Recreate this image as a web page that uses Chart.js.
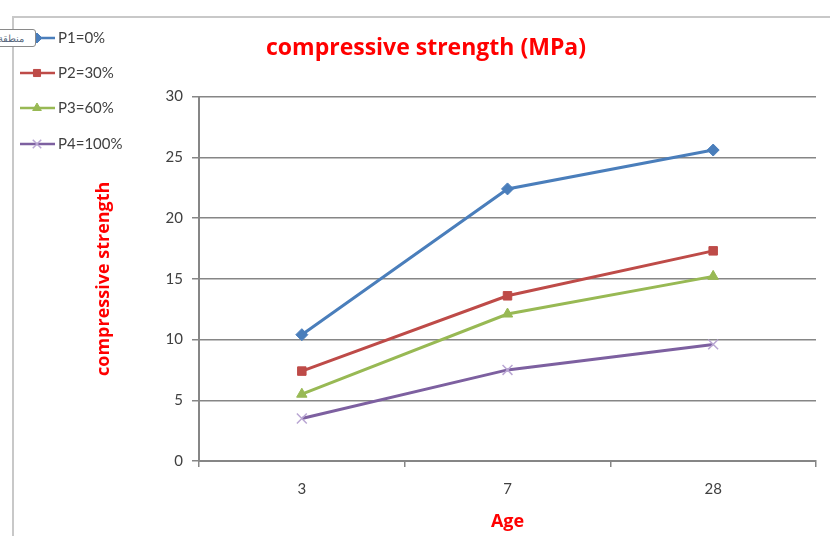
<!DOCTYPE html>
<html>
<head>
<meta charset="utf-8">
<script src="https://cdn.jsdelivr.net/npm/chart.js"></script>
<style>
  html, body { margin: 0; padding: 0; background: #fff; }
  #wrap { position: relative; width: 830px; height: 536px; overflow: hidden; }
  #frame { position: absolute; left: 12px; top: 16px; right: -2px; bottom: -2px;
           border-top: 2px solid #c8c8c8; border-left: 2px solid #c8c8c8; }
  #tip { position: absolute; left: -3px; top: 29px; width: 37px; height: 16px;
         border: 1px solid #8a8a8a; border-radius: 3px; background: #fff;
         font: 10px "Noto Sans", sans-serif; color: #5a6a80; text-align: left;
         line-height: 16px; overflow: hidden; white-space: nowrap; direction: rtl; }
  canvas { position: absolute; left: 0; top: 0; }
</style>
</head>
<body>
<div id="wrap">
  <div id="frame"></div>
  <canvas id="chart" width="830" height="536"></canvas>
  <div id="tip">منطقة</div>
</div>
<script>
// values
const ages = ['3', '7', '28'];
const seriesNames = ['P1=0%', 'P2=30%', 'P3=60%', 'P4=100%'];
const p1 = [10.4, 22.4, 25.6];
const p2 = [7.4, 13.6, 17.3];
const p3 = [5.5, 12.1, 15.2];
const p4 = [3.5, 7.5, 9.6];

const colors = ['#4a7ebb', '#be4b48', '#98b954', '#7d60a0'];
const markers = ['rectRot', 'rect', 'triangle', 'crossRot'];
const markerSize = [6, 6, 6, 7];
const tickFont = 'Lato, "Noto Sans", sans-serif';
const titleFont = '"Open Sans", "Noto Sans", sans-serif';

function makeSet(i, data) {
    return {
        label: seriesNames[i],
        data,
        borderColor: colors[i],
        backgroundColor: colors[i],
        borderWidth: 3,
        pointStyle: markers[i],
        pointRadius: markerSize[i],
        pointBorderWidth: markers[i] === 'crossRot' ? 1.5 : 1,
        pointBackgroundColor: colors[i],
        pointBorderColor: markers[i] === 'crossRot' ? '#b9a6d3' : colors[i],
        tension: 0
    };
}

// Excel style legend, stacked top-left
const sideLegend = {
    id: 'sideLegend',
    afterDraw(chart) {
        const c = chart.ctx;
        const rows = [38, 73, 108, 144];
        chart.data.datasets.forEach((ds, i) => {
            const y = rows[i];
            c.save();
            c.strokeStyle = ds.borderColor;
            c.lineWidth = 2.5;
            c.beginPath();
            c.moveTo(20, y);
            c.lineTo(55, y);
            c.stroke();
            if (Chart.helpers && Chart.helpers.drawPoint) {
                c.fillStyle = ds.pointBackgroundColor;
                c.strokeStyle = ds.pointBorderColor;
                c.lineWidth = ds.pointBorderWidth;
                Chart.helpers.drawPoint(c, {
                    pointStyle: ds.pointStyle,
                    radius: ds.pointRadius - 1,
                    borderWidth: ds.pointBorderWidth
                }, 37, y);
            }
            c.fillStyle = '#404040';
            c.font = '15px ' + tickFont;
            c.textBaseline = 'middle';
            c.textAlign = 'left';
            c.fillText(ds.label, 58, y);
            c.restore();
        });
    }
};

new Chart(document.getElementById('chart'), {
    type: 'line',
    data: {
        labels: ages,
        datasets: [makeSet(0, p1), makeSet(1, p2), makeSet(2, p3), makeSet(3, p4)]
    },
    options: {
        responsive: false,
        animation: false,
        layout: { padding: { left: 36, right: 14, top: 0, bottom: 0 } },
        plugins: {
            legend: { display: false },
            tooltip: { enabled: false },
            title: {
                display: true,
                text: 'compressive strength (MPa)',
                color: '#ff0000',
                font: { family: titleFont, size: 23, weight: 'bold' },
                padding: { top: 35, bottom: 34 }
            }
        },
        scales: {
            x: {
                offset: true,
                afterFit(scale) { scale.height = 75; },
                grid: {
                    offset: true,
                    drawOnChartArea: false,
                    drawTicks: true,
                    tickLength: 6,
                    color: '#868686',
                    lineWidth: 1.5
                },
                border: { color: '#868686', width: 2 },
                ticks: {
                    color: '#404040',
                    padding: 13,
                    font: { family: tickFont, size: 15 }
                },
                title: {
                    display: true,
                    text: 'Age',
                    color: '#ff0000',
                    font: { family: titleFont, size: 18, weight: 'bold' },
                    padding: { top: 0, bottom: 3 }
                }
            },
            y: {
                min: 0,
                max: 30,
                afterFit(scale) { scale.width = 163; },
                grid: {
                    color: '#868686',
                    lineWidth: 1.5,
                    tickLength: 7
                },
                border: { color: '#868686', width: 2 },
                ticks: {
                    stepSize: 5,
                    color: '#404040',
                    padding: 9,
                    font: { family: tickFont, size: 15 }
                },
                title: {
                    display: true,
                    text: 'compressive strength',
                    color: '#ff0000',
                    font: { family: titleFont, size: 18, weight: 'bold' },
                    padding: { top: 57, bottom: 0 }
                }
            }
        }
    },
    plugins: [sideLegend]
});
</script>
</body>
</html>
